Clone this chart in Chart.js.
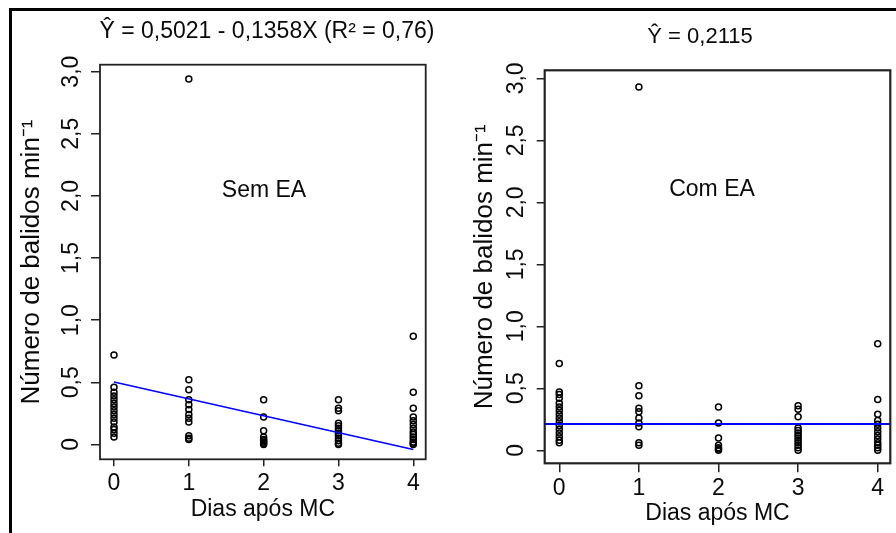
<!DOCTYPE html>
<html><head><meta charset="utf-8">
<script src="https://cdn.jsdelivr.net/npm/chart.js@4.4.0/dist/chart.umd.min.js"></script>
<style>
html,body{margin:0;padding:0;background:#fff;}
#wrap{position:relative;width:896px;height:533px;overflow:hidden;background:#fff;}
canvas{position:absolute;left:0;top:0;}
#frame{position:absolute;left:9px;top:8px;width:900px;height:600px;border-left:3px solid #000;border-top:3px solid #000;}
</style></head>
<body><div id="wrap"><div id="frame"></div>
<canvas id="c1" width="896" height="533"></canvas>
<canvas id="c2" width="896" height="533"></canvas></div>
<script>
// ---- data ----
const days = [0, 1, 2, 3, 4];
const xTickLabels = ['0', '1', '2', '3', '4'];
const yTickValues = [0, 0.5, 1, 1.5, 2, 2.5, 3];
const yTickLabels = ['0', '0,5', '1,0', '1,5', '2,0', '2,5', '3,0'];
const xTitle = 'Dias após MC';
const yTitle = 'Número de balidos min⁻¹';

// Sem EA (left panel)
const semDay0 = [0.72, 0.46, 0.42, 0.39, 0.36, 0.33, 0.30, 0.27, 0.24, 0.21, 0.18, 0.14, 0.12, 0.09, 0.06];
const semDay1 = [2.94, 0.52, 0.44, 0.36, 0.32, 0.28, 0.24, 0.21, 0.18, 0.07, 0.05, 0.04];
const semDay2 = [0.36, 0.22, 0.11, 0.06, 0.04, 0.03, 0.02, 0.01, 0.00];
const semDay3 = [0.36, 0.29, 0.27, 0.17, 0.15, 0.13, 0.11, 0.09, 0.07, 0.05, 0.03, 0.01, 0.00];
const semDay4 = [0.87, 0.42, 0.29, 0.22, 0.19, 0.16, 0.13, 0.10, 0.08, 0.06, 0.04, 0.02, 0.01, 0.00];
const semIntercept = 0.5021, semSlope = -0.1358;
const semTitle = 'Ŷ = 0,5021 - 0,1358X (R² = 0,76)';
const semLabel = 'Sem EA';

// Com EA (right panel)
const comDay0 = [0.70, 0.47, 0.45, 0.42, 0.38, 0.35, 0.32, 0.29, 0.26, 0.23, 0.20, 0.17, 0.14, 0.11, 0.08, 0.06];
const comDay1 = [2.93, 0.52, 0.44, 0.34, 0.31, 0.26, 0.22, 0.19, 0.06, 0.04];
const comDay2 = [0.35, 0.22, 0.10, 0.04, 0.02, 0.01, 0.00];
const comDay3 = [0.36, 0.33, 0.27, 0.18, 0.16, 0.14, 0.12, 0.10, 0.08, 0.06, 0.04, 0.02, 0.00];
const comDay4 = [0.86, 0.41, 0.29, 0.24, 0.21, 0.18, 0.15, 0.12, 0.09, 0.06, 0.04, 0.02, 0.00];
const comMean = 0.2115;
const comTitle = 'Ŷ = 0,2115';
const comLabel = 'Com EA';

const FONT = '"Liberation Sans", Arial, sans-serif';
const TXT = '#0a0a0a';

function toPoints(groups) {
  const pts = [];
  groups.forEach((vals, i) => vals.forEach(v => pts.push({x: days[i], y: v})));
  return pts;
}

function panelPlugin(cfg) {
  return {
    id: 'panelDeco',
    afterDraw(chart) {
      const ctx = chart.ctx, a = chart.chartArea, ys = chart.scales.y;
      ctx.save();
      ctx.strokeStyle = '#222';
      ctx.lineWidth = cfg.frameW;
      ctx.strokeRect(a.left, a.top, a.right - a.left, a.bottom - a.top);
      ctx.fillStyle = TXT;
      ctx.textAlign = 'center';
      ctx.textBaseline = 'middle';
      ctx.font = '23px ' + FONT;
      yTickValues.forEach((v, i) => {
        const py = ys.getPixelForValue(v);
        ctx.save();
        ctx.translate(cfg.yLabelX, py);
        ctx.rotate(-Math.PI / 2);
        ctx.fillText(yTickLabels[i], 0, 0);
        ctx.restore();
      });
      ctx.font = cfg.titleSize + 'px ' + FONT;
      ctx.fillText(cfg.title, cfg.titleX, cfg.titleY);
      ctx.font = '23px ' + FONT;
      ctx.fillText(cfg.label, cfg.labelX, cfg.labelY);
      ctx.restore();
    }
  };
}

function makeChart(id, cfg) {
  return new Chart(document.getElementById(id), {
    type: 'scatter',
    data: {
      datasets: [
        {
          data: cfg.points,
          showLine: false,
          pointStyle: 'circle',
          pointRadius: 3,
          pointBorderWidth: 1.5,
          borderColor: '#000',
          backgroundColor: 'rgba(0,0,0,0)',
          order: 2
        },
        {
          data: cfg.fit,
          showLine: true,
          borderColor: '#0000ff',
          borderWidth: cfg.fitW,
          pointRadius: 0,
          fill: false,
          order: 1
        }
      ]
    },
    options: {
      responsive: false,
      animation: false,
      events: [],
      layout: {padding: cfg.pad},
      plugins: {legend: {display: false}, tooltip: {enabled: false}},
      scales: {
        x: {
          type: 'linear',
          min: cfg.xMin, max: cfg.xMax,
          afterBuildTicks: s => { s.ticks = days.map(v => ({value: v})); },
          afterFit: s => { s.height = cfg.xH; },
          border: {display: false},
          grid: {drawOnChartArea: false, drawTicks: true, tickLength: cfg.xTickLen, color: '#222', lineWidth: 1.5},
          ticks: {
            autoSkip: false, maxRotation: 0, minRotation: 0, padding: cfg.xTickPad,
            color: TXT, font: {family: FONT, size: 23},
            callback: (v, i) => xTickLabels[i]
          },
          title: {display: true, text: xTitle, color: TXT, font: {family: FONT, size: 23},
                  padding: {top: 0, bottom: cfg.xTitlePad}}
        },
        y: {
          type: 'linear',
          min: cfg.yMin, max: cfg.yMax,
          afterBuildTicks: s => { s.ticks = yTickValues.map(v => ({value: v})); },
          afterFit: s => { s.width = cfg.yW; },
          border: {display: false},
          grid: {drawOnChartArea: false, drawTicks: true, tickLength: cfg.yTickLen, color: '#222', lineWidth: 1.5},
          ticks: {display: false},
          title: {display: true, text: yTitle, color: TXT, font: {family: FONT, size: 26},
                  padding: {top: cfg.yTitlePad, bottom: 0}}
        }
      }
    },
    plugins: [panelPlugin(cfg)]
  });
}

makeChart('c1', {
  points: toPoints([semDay0, semDay1, semDay2, semDay3, semDay4]),
  fit: [{x: 0, y: semIntercept}, {x: 4, y: semIntercept + semSlope * 4}],
  fitW: 1.5,
  pad: {left: 0, top: 64.7, right: 470.3, bottom: 0},
  xMin: -0.187, xMax: 4.166, yMin: -0.12, yMax: 3.056,
  xH: 73.7, yW: 100, xTickLen: 7, yTickLen: 9, xTickPad: 4, xTitlePad: 10, yTitlePad: 16.4,
  frameW: 1.8, yLabelX: 72,
  title: semTitle, titleSize: 23, titleX: 267, titleY: 32,
  label: semLabel, labelX: 264, labelY: 191
});

makeChart('c2', {
  points: toPoints([comDay0, comDay1, comDay2, comDay3, comDay4]),
  fit: [{x: -0.183, y: comMean}, {x: 4.158, y: comMean}],
  fitW: 2,
  pad: {left: 446, top: 70.3, right: 5.7, bottom: 0},
  xMin: -0.183, xMax: 4.158, yMin: -0.105, yMax: 3.065,
  xH: 69.7, yW: 98.7, xTickLen: 9, yTickLen: 8, xTickPad: 3, xTitlePad: 6, yTitlePad: 23.4,
  frameW: 2.2, yLabelX: 517,
  title: comTitle, titleSize: 22, titleX: 700, titleY: 37,
  label: comLabel, labelX: 712, labelY: 190
});
</script>
</body></html>
